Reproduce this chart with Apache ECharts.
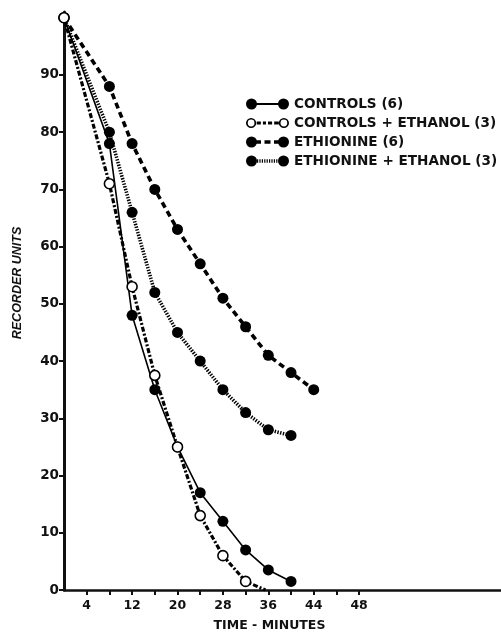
<!DOCTYPE html>
<html>
<head>
<meta charset="utf-8">
<script src="https://cdn.jsdelivr.net/npm/echarts@6/dist/echarts.min.js"></script>
<style>
  html, body { margin: 0; padding: 0; background: #fff; }
  #chart { width: 501px; height: 638px; }
</style>
</head>
<body>
<div id="chart"></div>
<script>
// time points (minutes) for each group
var controlsTime    = [0, 8, 12, 16, 20, 24, 28, 32, 36, 40];
var controlsVal     = [100, 78, 48, 35, 25, 17, 12, 7, 3.5, 1.5];
var ctrlEthTime     = [0, 8, 12, 16, 20, 24, 28, 32, 35.5];
var ctrlEthVal      = [100, 71, 53, 37.5, 25, 13, 6, 1.5, 0];
var ethionineTime   = [0, 8, 12, 16, 20, 24, 28, 32, 36, 40, 44];
var ethionineVal    = [100, 88, 78, 70, 63, 57, 51, 46, 41, 38, 35];
var ethEthTime      = [0, 8, 12, 16, 20, 24, 28, 32, 36, 40];
var ethEthVal       = [100, 80, 66, 52, 45, 40, 35, 31, 28, 27];

var seriesNames = ['CONTROLS (6)', 'CONTROLS + ETHANOL (3)', 'ETHIONINE (6)', 'ETHIONINE + ETHANOL (3)'];

// x ticks every 4 min, labels every 8 (last label printed as 48 in the original)
var xTickValues  = [4, 8, 12, 16, 20, 24, 28, 32, 36, 40, 44, 48, 52];
var xLabelValues = [4, 12, 20, 28, 36, 44, 52];
var xLabelTexts  = ['4', '12', '20', '28', '36', '44', '48'];
var yTickValues  = [0, 10, 20, 30, 40, 50, 60, 70, 80, 90];

function pairs(t, v) {
    return t.map(function (x, i) { return [x, v[i]]; });
}

// legend icons: two dots joined by a line in each series' dash style
var dot = function (cx) {
    return 'M' + (cx - 5.5) + ',5.5 A5.5,5.5 0 1,1 ' + (cx + 5.5) + ',5.5 A5.5,5.5 0 1,1 ' + (cx - 5.5) + ',5.5 Z ';
};
var ring = function (cx) {
    return 'M' + (cx - 5) + ',5.5 A5,5 0 1,1 ' + (cx + 5) + ',5.5 A5,5 0 1,1 ' + (cx - 5) + ',5.5 Z ' +
           'M' + (cx - 3.3) + ',5.5 A3.3,3.3 0 1,0 ' + (cx + 3.3) + ',5.5 A3.3,3.3 0 1,0 ' + (cx - 3.3) + ',5.5 Z ';
};
var bar = function (x1, x2, h) {
    var y1 = 5.5 - h / 2, y2 = 5.5 + h / 2;
    return 'M' + x1 + ',' + y1 + ' L' + x2 + ',' + y1 + ' L' + x2 + ',' + y2 + ' L' + x1 + ',' + y2 + ' Z ';
};
var iconSolid = 'path://' + dot(5.5) + dot(37.5) + bar(9, 34, 1.8);
var iconOpen = 'path://' + ring(5.5) + ring(37.5) + bar(11, 15, 2.8) + bar(17, 20, 2.8) + bar(22, 26, 2.8) + bar(28, 32.5, 2.8);
var iconDash = 'path://' + dot(5.5) + dot(37.5) + bar(10, 15, 3.6) + bar(18.5, 24.5, 3.6) + bar(28, 33, 3.6);
var iconDot = 'path://' + dot(5.5) + dot(37.5);
for (var k = 11; k < 32; k += 2.4) { iconDot += bar(k, k + 1.2, 3.6); }

var chart = echarts.init(document.getElementById('chart'));

var fontMain = '"DejaVu Sans", "Liberation Sans", sans-serif';

var option = {
    animation: false,
    backgroundColor: '#fff',
    grid: { left: 64, right: 0, top: 12, bottom: 48 },
    legend: {
        orient: 'vertical',
        left: 241,
        top: 92,
        itemWidth: 43,
        itemHeight: 11,
        itemGap: 5,
        itemStyle: { color: '#000', borderWidth: 0 },
        textStyle: { fontFamily: fontMain, fontWeight: 'bold', fontSize: 13.6, color: '#111' },
        data: [
            { name: seriesNames[0], icon: iconSolid },
            { name: seriesNames[1], icon: iconOpen },
            { name: seriesNames[2], icon: iconDash },
            { name: seriesNames[3], icon: iconDot }
        ]
    },
    xAxis: {
        type: 'value',
        min: 0,
        max: 77,
        name: 'TIME - MINUTES',
        nameLocation: 'middle',
        nameGap: 29,
        nameTextStyle: { fontFamily: fontMain, fontWeight: 'bold', fontSize: 12.5, color: '#111', padding: [0, 26, 0, 0] },
        splitLine: { show: false },
        axisLine: { lineStyle: { color: '#111', width: 2.5 } },
        axisTick: { customValues: xTickValues, length: 5, lineStyle: { color: '#111', width: 2 } },
        axisLabel: {
            customValues: xLabelValues,
            margin: 9,
            fontFamily: fontMain, fontWeight: 'bold', fontSize: 12.5, color: '#111',
            formatter: function (v) {
                var i = xLabelValues.indexOf(v);
                return i >= 0 ? xLabelTexts[i] : '';
            }
        }
    },
    yAxis: {
        type: 'value',
        min: 0,
        max: 101,
        name: 'RECORDER UNITS',
        nameLocation: 'middle',
        nameGap: 40,
        nameTextStyle: { fontFamily: '"Liberation Sans", Arial, sans-serif', fontStyle: 'italic', fontWeight: 'bold', fontSize: 12.5, color: '#111', padding: [0, 0, 0, 36] },
        splitLine: { show: false },
        axisLine: { lineStyle: { color: '#111', width: 3 } },
        axisTick: { customValues: yTickValues, length: 5, lineStyle: { color: '#111', width: 2 } },
        axisLabel: {
            customValues: yTickValues,
            margin: 5,
            fontFamily: fontMain, fontWeight: 'bold', fontSize: 13.5, color: '#111'
        }
    },
    series: [
        {
            name: seriesNames[0],
            type: 'line',
            data: pairs(controlsTime, controlsVal),
            symbol: 'circle',
            symbolSize: 11,
            itemStyle: { color: '#000' },
            lineStyle: { color: '#000', width: 1.6 },
            z: 4
        },
        {
            name: seriesNames[1],
            type: 'line',
            data: pairs(ctrlEthTime, ctrlEthVal).map(function (p, i) {
                return i === ctrlEthTime.length - 1 ? { value: p, symbol: 'none' } : p;
            }),
            symbol: 'circle',
            symbolSize: 10,
            itemStyle: { color: '#fff', borderColor: '#000', borderWidth: 1.6 },
            lineStyle: { color: '#000', width: 3.2, type: [5, 2, 2, 2] },
            z: 5
        },
        {
            name: seriesNames[2],
            type: 'line',
            data: pairs(ethionineTime, ethionineVal),
            symbol: 'circle',
            symbolSize: 11,
            itemStyle: { color: '#000' },
            lineStyle: { color: '#000', width: 3.6, type: [6, 4] },
            z: 3
        },
        {
            name: seriesNames[3],
            type: 'line',
            data: pairs(ethEthTime, ethEthVal),
            symbol: 'circle',
            symbolSize: 11,
            itemStyle: { color: '#000' },
            lineStyle: { color: '#000', width: 3.6, type: [1.4, 1.4] },
            z: 3
        }
    ]
};

chart.setOption(option);
</script>
</body>
</html>
